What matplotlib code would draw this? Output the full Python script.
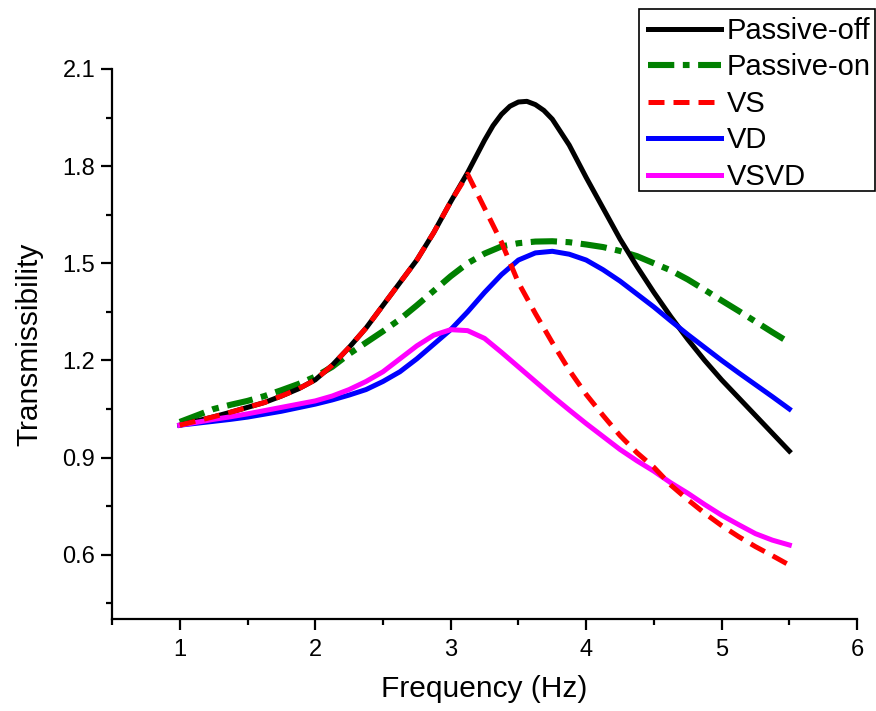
"""
Transmissibility vs frequency for the passive / semi-active suspension cases.
"""
import matplotlib
matplotlib.use('Agg')
import matplotlib.pyplot as plt
from matplotlib.patches import Rectangle
from matplotlib.ticker import MultipleLocator

plt.rcParams['font.family'] = ['Liberation Sans', 'DejaVu Sans']

# values (Hz / transmissibility)
freq = [1.0, 1.125, 1.25, 1.375, 1.5, 1.625, 1.75, 1.875, 2.0, 2.125, 2.25,
        2.375, 2.5, 2.625, 2.75, 2.875, 3.0, 3.125, 3.25, 3.375, 3.5, 3.625,
        3.75, 3.875, 4.0, 4.125, 4.25, 4.375, 4.5, 4.625, 4.75, 4.875, 5.0,
        5.125, 5.25, 5.375, 5.5]

# passive-off has a few extra readings around its sharp peak
off_freq = [1.0, 1.125, 1.25, 1.375, 1.5, 1.625, 1.75, 1.875, 2.0, 2.125,
            2.25, 2.375, 2.5, 2.625, 2.75, 2.875, 3.0, 3.125, 3.25, 3.3125,
            3.375, 3.4375, 3.5, 3.5625, 3.625, 3.6875, 3.75, 3.875, 4.0,
            4.125, 4.25, 4.375, 4.5, 4.625, 4.75, 4.875, 5.0, 5.125, 5.25,
            5.375, 5.5]
passive_off = [1.0, 1.013, 1.026, 1.04, 1.055, 1.07, 1.09, 1.112, 1.14, 1.185,
               1.24, 1.30, 1.37, 1.44, 1.51, 1.595, 1.69, 1.78, 1.88, 1.925,
               1.96, 1.985, 1.998, 2.0, 1.99, 1.972, 1.945, 1.865, 1.765,
               1.67, 1.575, 1.49, 1.41, 1.335, 1.265, 1.20, 1.14, 1.085, 1.03,
               0.975, 0.92]

passive_on = [1.01, 1.03, 1.05, 1.063, 1.075, 1.09, 1.108, 1.127, 1.15, 1.18,
              1.22, 1.255, 1.29, 1.327, 1.37, 1.415, 1.46, 1.50, 1.53, 1.552,
              1.562, 1.567, 1.568, 1.565, 1.558, 1.55, 1.538, 1.522, 1.50,
              1.478, 1.45, 1.418, 1.385, 1.353, 1.32, 1.287, 1.255]

vs = [1.0, 1.013, 1.026, 1.04, 1.055, 1.07, 1.09, 1.112, 1.14, 1.185, 1.24,
      1.30, 1.37, 1.44, 1.51, 1.595, 1.69, 1.775, 1.67, 1.565, 1.44, 1.345,
      1.255, 1.17, 1.095, 1.03, 0.968, 0.915, 0.87, 0.815, 0.77, 0.728, 0.69,
      0.656, 0.625, 0.597, 0.568]

vd = [1.0, 1.006, 1.012, 1.018, 1.025, 1.034, 1.043, 1.054, 1.065, 1.078,
      1.093, 1.11, 1.135, 1.165, 1.205, 1.25, 1.295, 1.35, 1.41, 1.465, 1.51,
      1.532, 1.537, 1.528, 1.51, 1.48, 1.445, 1.405, 1.365, 1.322, 1.28, 1.24,
      1.20, 1.162, 1.125, 1.088, 1.05]

vsvd = [1.0, 1.009, 1.018, 1.026, 1.035, 1.045, 1.055, 1.065, 1.075, 1.09,
        1.11, 1.135, 1.165, 1.205, 1.245, 1.278, 1.295, 1.292, 1.268, 1.225,
        1.18, 1.135, 1.09, 1.047, 1.005, 0.965, 0.925, 0.89, 0.858, 0.822,
        0.79, 0.755, 0.722, 0.693, 0.665, 0.645, 0.63]

fig = plt.figure(figsize=(8.76, 7.11), dpi=100)
ax = fig.add_axes([0.1279, 0.1287, 0.8505, 0.7743])

lw = 3.6
ax.plot(off_freq, passive_off, color='black', lw=lw, label='Passive-off',
        zorder=3)
ax.plot(freq, passive_on, color='green', lw=4.4,
        dashes=(4.3, 1.4, 1.1, 1.4), label='Passive-on', zorder=2)
ax.plot(freq, vs, color='red', lw=lw, dashes=(3.2, 1.8), label='VS', zorder=4)
ax.plot(freq, vd, color='blue', lw=lw, label='VD', zorder=3)
ax.plot(freq, vsvd, color='magenta', lw=lw, label='VSVD', zorder=3)

ax.set_xlim(0.5, 6)
ax.set_ylim(0.4, 2.1)
ax.xaxis.set_major_locator(MultipleLocator(1))
ax.xaxis.set_minor_locator(MultipleLocator(0.5))
ax.set_yticks([0.6, 0.9, 1.2, 1.5, 1.8, 2.1])
ax.yaxis.set_minor_locator(MultipleLocator(0.15))

for s in ['top', 'right']:
    ax.spines[s].set_visible(False)
for s in ['left', 'bottom']:
    ax.spines[s].set_linewidth(1.6)

ax.tick_params(which='major', direction='out', length=8, width=1.6,
               labelsize=17)
ax.tick_params(axis='y', which='major', pad=4)
ax.tick_params(axis='x', which='major', pad=6)
ax.tick_params(which='minor', direction='out', length=4, width=1.6)

ax.set_xlabel('Frequency (Hz)', fontsize=21.5, labelpad=10)
ax.set_ylabel('Transmissibility', fontsize=21.5, labelpad=14)

# legend without its own frame; the box is drawn separately to match
leg = ax.legend(loc='upper left', bbox_to_anchor=(648 / 876, 1 - 17 / 711),
                bbox_transform=fig.transFigure, borderaxespad=0,
                borderpad=0, fontsize=21, handlelength=2.5,
                handletextpad=0.2, labelspacing=0.29, frameon=False)
fig.patches.append(Rectangle((639 / 876, 1 - 191 / 711), 236 / 876,
                             182 / 711, transform=fig.transFigure,
                             fill=False, ec='black', lw=1.2, zorder=5))

fig.savefig('out.png', dpi=100)
